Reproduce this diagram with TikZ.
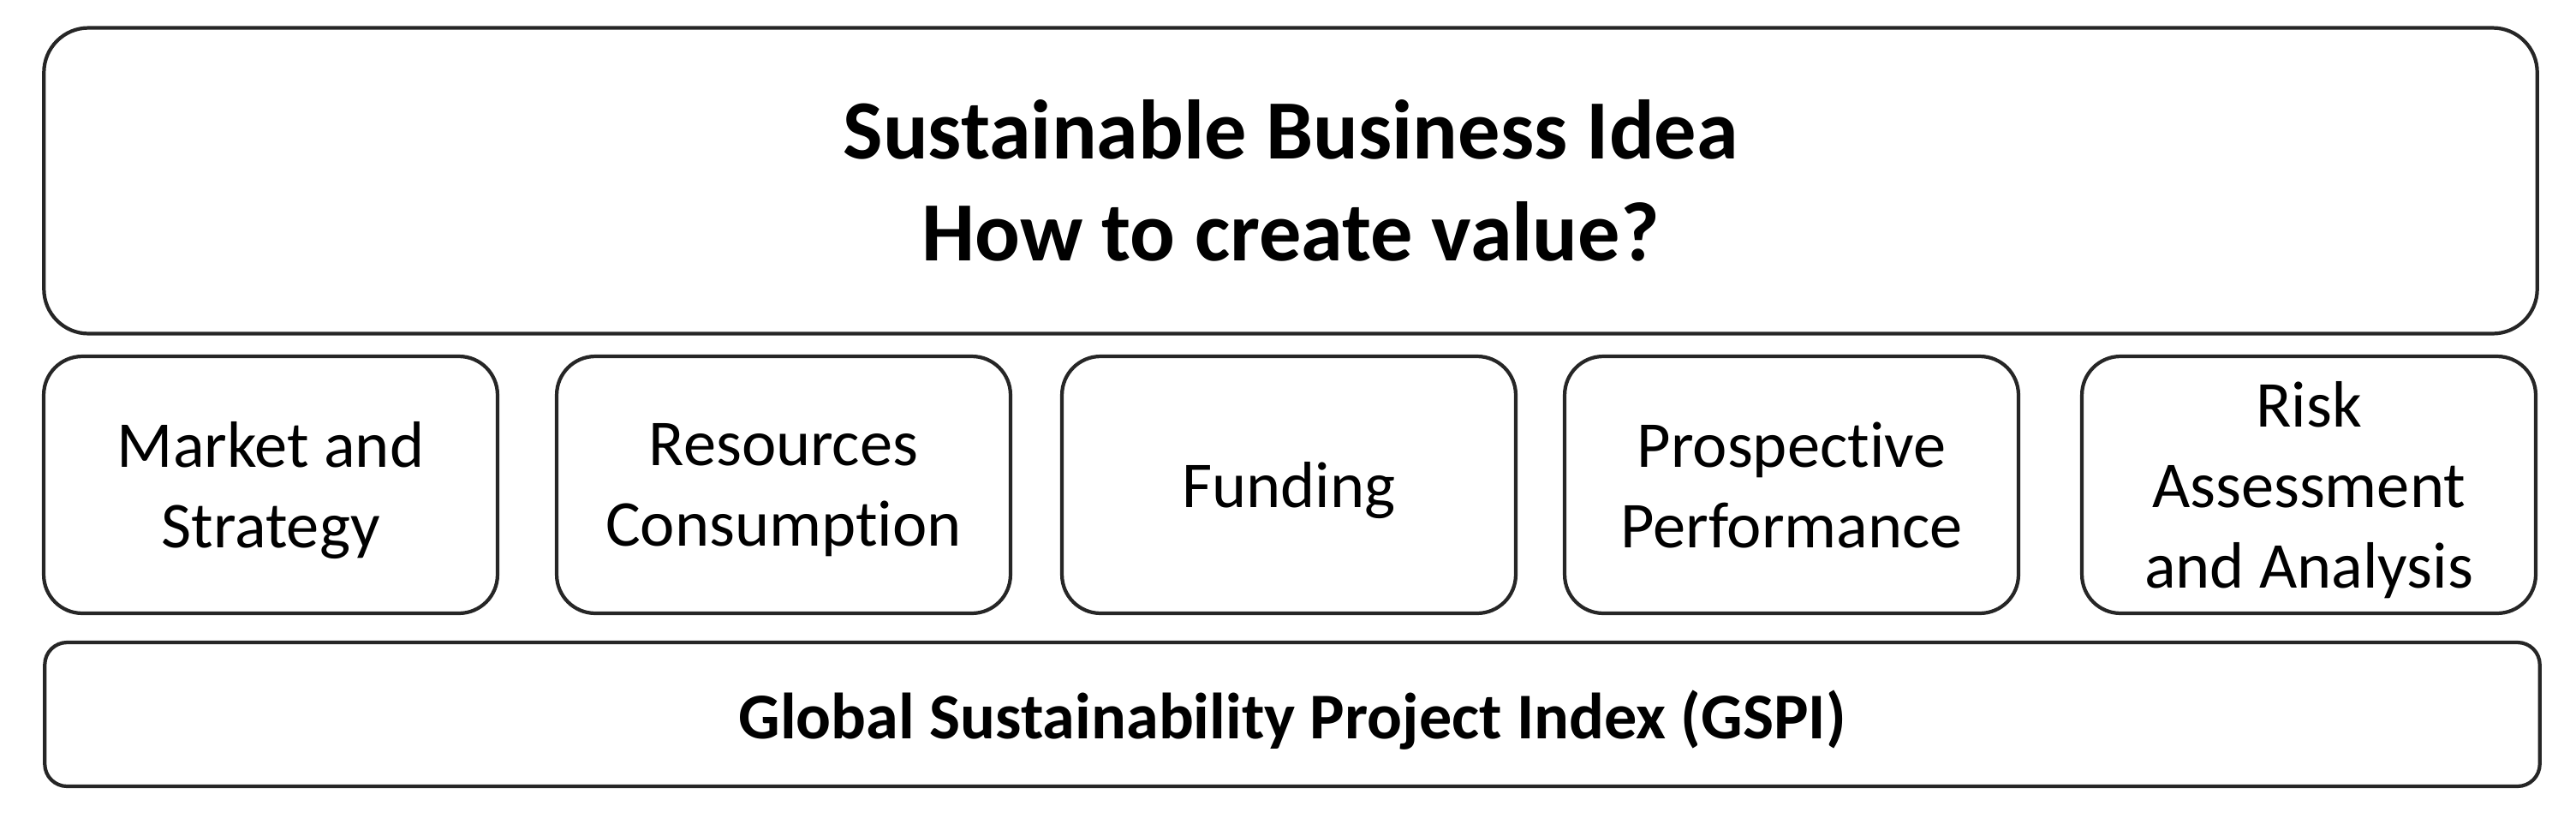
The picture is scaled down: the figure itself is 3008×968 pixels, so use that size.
\documentclass[tikz,border=0pt]{standalone}
\usepackage{fontspec}
\setmainfont{Carlito}[Ligatures=NoCommon]
\usepackage{tikz}

\begin{document}
\begin{tikzpicture}[x=0.02cm,y=-0.02cm,
  block/.style={draw=black!85, line width=2.4pt, rounded corners=0.9cm, align=center,
    minimum width=10.6cm, minimum height=6cm, inner sep=0pt, text depth=0pt,
    font=\fontsize{43.5}{53.5}\selectfont}]
\useasboundingbox (0,0) rectangle (3008,968);
% top: the idea
\node[draw=black!85, line width=2.4pt, rounded corners=1.04cm, align=center, inner sep=0pt,
  minimum width=58.24cm, minimum height=7.14cm, font=\fontsize{56}{67.5}\selectfont\bfseries]
  (idea) at (1507,211) {Sustainable Business Idea\\How to create value?};
% middle row
\node[block] (market) at (316,566) {Market and\\Strategy};
\node[block] (resources) at (915,566) {Resources\\Consumption};
\node[block] (funding) at (1505,566) {Funding};
\node[block] (perform) at (2092,566) {Prospective\\Performance};
\node[block] (risk) at (2696,566) {Risk\\Assessment\\and Analysis};
% bottom: the index
\node[draw=black!85, line width=2.4pt, rounded corners=0.52cm, inner sep=0pt, text depth=0pt,
  minimum width=58.28cm, minimum height=3.36cm, font=\fontsize{43.4}{52}\selectfont\bfseries]
  (gspi) at (1509,834) {Global Sustainability Project Index (GSPI)};
\end{tikzpicture}
\end{document}
